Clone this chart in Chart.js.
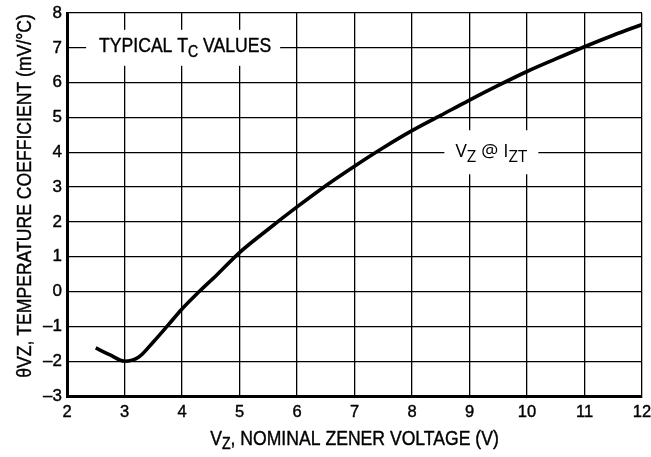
<!DOCTYPE html>
<html>
<head>
<meta charset="utf-8">
<script src="https://cdn.jsdelivr.net/npm/chart.js@4"></script>
<style>
  html, body { margin: 0; padding: 0; background: #fff; }
  #wrap { width: 651px; height: 457px; }
</style>
</head>
<body>
<div id="wrap"><canvas id="chart" width="651" height="457"></canvas></div>
<script>
// Zener voltage (V) vs temperature coefficient (mV/°C)
const vzValues = [2.5, 2.75, 3.0, 3.25, 3.5, 3.75, 4.0, 4.3, 4.6, 5.0, 5.5, 6.0, 6.5, 7.0, 7.5, 8.0, 8.5, 9.0, 9.5, 10.0, 10.5, 11.0, 11.5, 12.0];
const tcValues = [-1.62, -1.82, -2.0, -1.88, -1.45, -0.98, -0.5, 0.0, 0.47, 1.12, 1.79, 2.43, 3.04, 3.6, 4.13, 4.62, 5.06, 5.5, 5.92, 6.32, 6.68, 7.03, 7.36, 7.67];

const xTicks = [2, 3, 4, 5, 6, 7, 8, 9, 10, 11, 12];
const yTicks = [-3, -2, -1, 0, 1, 2, 3, 4, 5, 6, 7, 8];

const FONT = '"Liberation Sans", Arial, sans-serif';
const LABEL_FONT = '"Open Sans", "Noto Sans", sans-serif';

// draw [text, isSubscript] pieces centered at cx, squeezed by sx
function drawParts(ctx, parts, cx, cy, size, opts) {
    opts = opts || {};
    const family = opts.family || FONT;
    const sx = opts.sx || 1;
    const subSize = size * (opts.sub || 0.8);
    let total = 0;
    parts.forEach(p => {
        ctx.font = (p[1] ? subSize : size) + 'px ' + family;
        total += ctx.measureText(p[0]).width;
    });
    ctx.save();
    ctx.translate(cx, cy);
    ctx.scale(sx, 1);
    let x = -total / 2;
    ctx.textAlign = 'left';
    ctx.textBaseline = 'middle';
    ctx.strokeStyle = '#000';
    ctx.lineWidth = opts.stroke || 0;
    parts.forEach(p => {
        ctx.font = (p[1] ? subSize : size) + 'px ' + family;
        const y = p[1] ? size * 0.3 : 0;
        ctx.fillText(p[0], x, y);
        if (opts.stroke) ctx.strokeText(p[0], x, y);
        x += ctx.measureText(p[0]).width;
    });
    ctx.restore();
}

// labels, white boxes over grid, axis titles
const annotations = {
    id: 'annotations',
    beforeDatasetsDraw(chart) {
        const ctx = chart.ctx;
        const xs = chart.scales.x, ys = chart.scales.y;
        ctx.save();
        ctx.fillStyle = '#fff';
        // box around "TYPICAL TC VALUES"
        let cx = xs.getPixelForValue(4.02), cy = ys.getPixelForValue(7);
        ctx.fillRect(cx - 97, cy - 18, 194, 36);
        // box around "VZ @ IZT"
        let cx2 = xs.getPixelForValue(9.38), cy2 = ys.getPixelForValue(4);
        ctx.fillRect(cx2 - 47, cy2 - 22, 94, 44);
        ctx.fillStyle = '#000';
        drawParts(ctx, [['TYPICAL T', false], ['C', true], [' VALUES', false]], cx + 2, cy - 1, 20, { sx: 0.88, stroke: 0.4 });
        drawParts(ctx, [['V', false], ['Z', true], [' @ I', false], ['ZT', true]], cx2, cy2 - 1, 19, { family: LABEL_FONT, sub: 0.88 });
        ctx.restore();
    },
    afterDraw(chart) {
        const ctx = chart.ctx;
        const area = chart.chartArea;
        ctx.save();
        ctx.fillStyle = '#000';
        drawParts(ctx, [['V', false], ['Z', true], [', NOMINAL ZENER VOLTAGE (V)', false]], (area.left + area.right) / 2, 439, 20, { sx: 0.88, stroke: 0.4 });
        ctx.translate(25, 196);
        ctx.rotate(-Math.PI / 2);
        drawParts(ctx, [['θVZ, TEMPERATURE COEFFICIENT (mV/°C)', false]], 0, 0, 20, { sx: 0.88, stroke: 0.4 });
        ctx.restore();
    }
};

new Chart(document.getElementById('chart').getContext('2d'), {
    type: 'scatter',
    data: {
        datasets: [{
            data: vzValues.map((v, i) => ({ x: v, y: tcValues[i] })),
            showLine: true,
            borderColor: '#000',
            borderWidth: 3.6,
            pointRadius: 0,
            cubicInterpolationMode: 'monotone'
        }]
    },
    options: {
        responsive: false,
        animation: false,
        layout: { padding: { left: 0, top: 13, right: 9, bottom: 0 } },
        plugins: { legend: { display: false }, tooltip: { enabled: false } },
        scales: {
            x: {
                type: 'linear',
                min: 2, max: 12,
                afterBuildTicks: s => { s.ticks = xTicks.map(v => ({ value: v })); },
                afterFit: s => { s.height = 61; s.paddingLeft = 0; s.paddingRight = 0; },
                grid: { color: '#000', lineWidth: 1.3, drawTicks: false },
                border: { color: '#000', width: 3 },
                ticks: {
                    color: '#000', padding: 7, font: { family: FONT, size: 16.5 },
                    textStrokeColor: '#000', textStrokeWidth: 0.4
                }
            },
            y: {
                type: 'linear',
                min: -3, max: 8,
                afterBuildTicks: s => { s.ticks = yTicks.map(v => ({ value: v })); },
                afterFit: s => { s.width = 67; s.paddingTop = 0; s.paddingBottom = 0; },
                grid: { color: '#000', lineWidth: 1.3, drawTicks: false },
                border: { color: '#000', width: 3 },
                ticks: {
                    color: '#000', padding: 5, font: { family: FONT, size: 17 },
                    textStrokeColor: '#000', textStrokeWidth: 0.4,
                    callback: v => v < 0 ? '\u2013' + Math.abs(v) : String(v)
                }
            }
        }
    },
    plugins: [annotations]
});
</script>
</body>
</html>
